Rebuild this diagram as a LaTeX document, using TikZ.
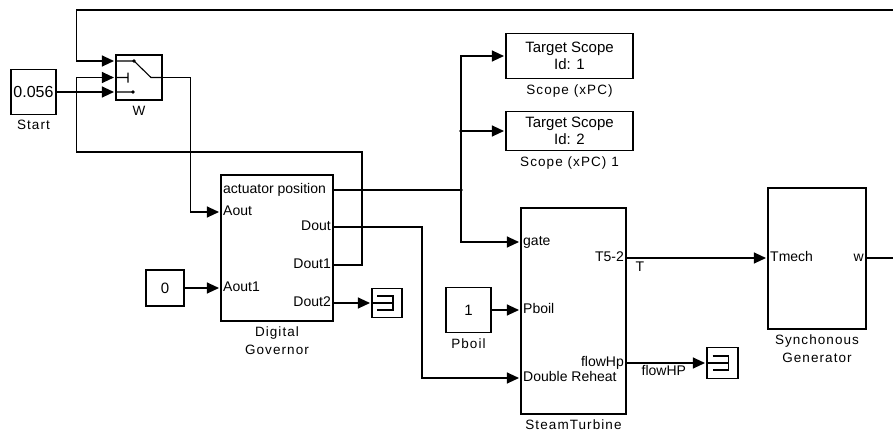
\documentclass[tikz,border=0pt]{standalone}
\usepackage{fontspec}
\setmainfont{Liberation Sans}
\newfontfamily\capfont[LetterSpace=8]{Liberation Sans}
\usetikzlibrary{arrows.meta, positioning}

\begin{document}
\begin{tikzpicture}[
    x=1pt, y=-1pt,
    every node/.style={font=\fontsize{14}{15}\selectfont},
    blk/.style={draw, rectangle, inner sep=0pt, line width=1.1pt, align=center,
        font=\fontsize{15}{17}\selectfont},
    port/.style={inner sep=1.5pt, text height=1.55ex, text depth=0.3ex},
    blkcap/.style={inner sep=1pt, align=center, font=\fontsize{13.5}{18}\capfont},
    sig/.style={line width=1.1pt},
    feed/.style={sig, -{Triangle[length=12pt, width=11pt]}, shorten >=1.5pt},
    junc/.style={circle, fill, inner sep=0pt, minimum size=3.6pt}
]
\useasboundingbox (0,0) rectangle (893,434);

% blocks
\node[blk, minimum width=45, minimum height=45, font=\fontsize{16}{17}\selectfont] (start) at (33.5,92) {0.056};
\node[blk, minimum width=46, minimum height=45] (sw) at (139,77.5) {};
\node[blk, minimum width=112, minimum height=146] (gov) at (277,248) {};
\node[blk, minimum width=38, minimum height=36] (zero) at (165,288) {0};
\node[blk, minimum width=30, minimum height=29] (term1) at (387,303) {};
\node[blk, minimum width=127, minimum height=45] (scope1) at (569.5,56) {Target Scope\\Id: 1};
\node[blk, minimum width=127, minimum height=39] (scope2) at (569.5,131) {Target Scope\\Id: 2};
\node[blk, minimum width=105, minimum height=206] (turb) at (573.5,311) {};
\node[blk, minimum width=45, minimum height=45] (pb) at (468.5,310) {1};
\node[blk, minimum width=31, minimum height=31] (term2) at (722.5,363) {};
\node[blk, minimum width=98, minimum height=141] (gen) at (817,258.5) {};

% captions
\node[blkcap, below=4pt of start] (startCap) {Start};
\node[blkcap, below=4pt of sw] (swCap) {W};
\node[blkcap, below=4pt of gov] (govCap) {Digital\\Governor};
\node[blkcap, below=4pt of scope1] (scope1Cap) {Scope (xPC)};
\node[blkcap, below=4pt of scope2] (scope2Cap) {Scope (xPC) 1};
\node[blkcap, below=4pt of pb] (pbCap) {Pboil};
\node[blkcap, below=4pt of turb] (turbCap) {SteamTurbine};
\node[blkcap, below=4pt of gen] (genCap) {Synchonous\\Generator};

% ports
\node[port, anchor=west] (gAct) at (221.5,190) {actuator position};
\node[port, anchor=west] (gAout) at (221.5,212) {Aout};
\node[port, anchor=east] (gDout) at (332.5,227) {Dout};
\node[port, anchor=east] (gDout1) at (332.5,265) {Dout1};
\node[port, anchor=west] (gAout1) at (221.5,288) {Aout1};
\node[port, anchor=east] (gDout2) at (332.5,303) {Dout2};
\node[port, anchor=west] (tGate) at (521.5,242) {gate};
\node[port, anchor=east] (tT) at (625.5,258) {T5-2};
\node[port, anchor=west] (tPb) at (521.5,310) {Pboil};
\node[port, anchor=east] (tFl) at (625.5,363) {flowHp};
\node[port, anchor=west] (tDR) at (521.5,378) {Double Reheat};
\node[port, anchor=west] (gTm) at (768.5,258) {Tmech};
\node[port, anchor=east] (gW) at (865.5,258) {w};

% signal names
\node[port, anchor=north west] (lblT) at (634,262) {T};
\node[port, anchor=north west] (lblFl) at (640,366) {flowHP};

% switch inputs and loose ends
\coordinate (swIn1) at ([yshift=16.5pt]sw.west);
\coordinate (swIn2) at (sw.west);
\coordinate (swIn3) at ([yshift=-14.5pt]sw.west);
\coordinate (fbR) at (893,10);
\coordinate (wR) at (893,258);
\node[junc] (jA) at (461,190) {};
\node[junc] (jB) at (461,131) {};

% switch inside
\draw[sig, shift={(sw.center)}] (-23,-16.5) -- (-5,-16.5) -- (12,0) -- (23,0)
    (-23,0) -- (-11,0) (-11,-5) -- (-11,5)
    (-23,14.5) -- (-6,14.5);
\fill[shift={(sw.center)}] (-5,-16.5) circle (1.8) (-6,14.5) circle (1.8);

% terminators
\foreach \t in {term1, term2}
    \draw[sig, shift={(\t.center)}] (-10,-7) -- (6,-7) -- (6,7) -- (-10,7) (-15,0) -- (6,0);

% lines
\draw[feed] (start.east) -- (swIn3);
\draw[feed] (fbR) -| ([xshift=-39pt]swIn1) -- (swIn1);
\draw[feed] (gov.east |- gDout1) -| (362,152) -| ([xshift=-39pt]swIn2) -- (swIn2);
\draw[feed] (sw.east) -- ++(28,0) |- (gov.west |- gAout);
\draw[feed] (zero.east) -- (gov.west |- gAout1);
\draw[feed] (gov.east |- gDout2) -- (term1.west);
\draw[sig] (gov.east |- gAct) -- (jA.center);
\draw[feed] (jA.center) |- (scope1.west);
\draw[feed] (jB.center) -- (scope2.west);
\draw[feed] (jA.center) |- (turb.west |- tGate);
\draw[feed] (gov.east |- gDout) -| (422,340) |- (turb.west |- tDR);
\draw[feed] (pb.east) -- (turb.west |- tPb);
\draw[feed] (turb.east |- tT) -- (gen.west |- gTm);
\draw[feed] (turb.east |- tFl) -- (term2.west);
\draw[sig] (gen.east |- gW) -- (wR);
\end{tikzpicture}
\end{document}
